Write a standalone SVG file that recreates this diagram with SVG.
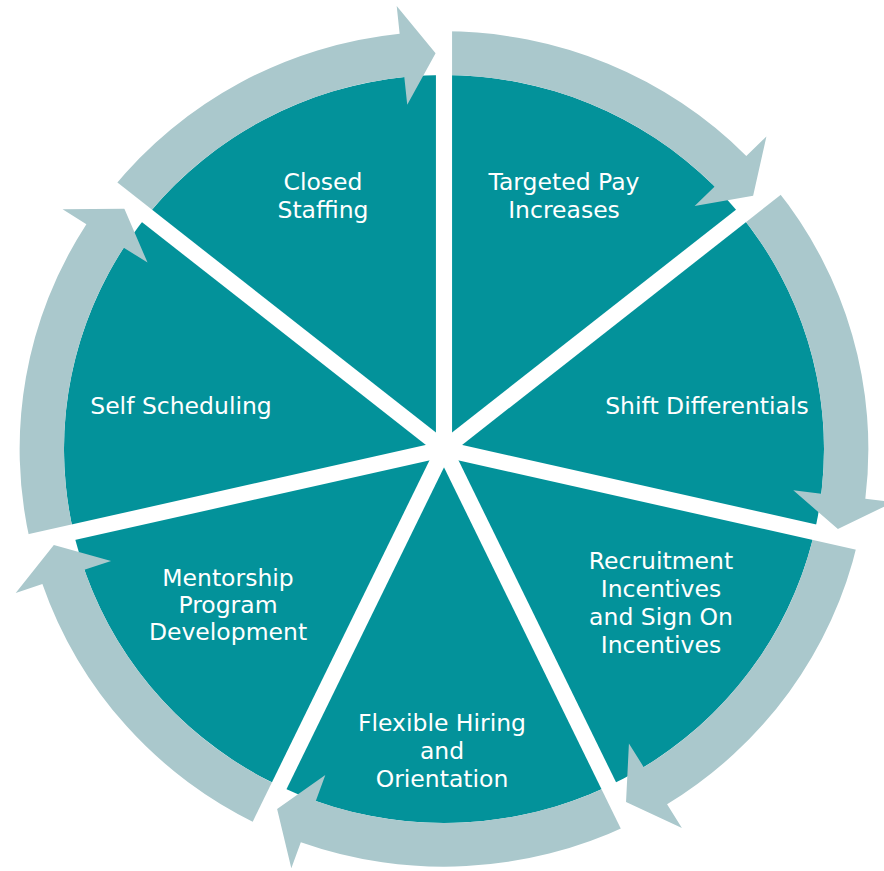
<svg xmlns="http://www.w3.org/2000/svg" xmlns:xlink="http://www.w3.org/1999/xlink" width="884" height="871" viewBox="0 0 884 871">
<style>
.ring{fill:#AAC8CC}
.pie{fill:#03929A}
.spoke{stroke:#FFFFFF;stroke-width:16;stroke-linecap:butt}
.lbl{fill:#FFFFFF;font-family:"DejaVu Sans","Liberation Sans",sans-serif;font-size:23.5px;text-anchor:middle}
</style>
<defs>
<path id="arrow" class="ring" d="M421,0 A421,421 0 0 1 295.45,299.92 L315.10,319.86 L255.24,306.68 L244.92,248.62 L264.57,268.57 A377,377 0 0 0 377,0 Z"/>
</defs>
<rect width="884" height="871" fill="#FFFFFF"/>
<g id="wheel" transform="translate(444,449) scale(1.008,0.992)">
<circle class="pie" cx="0" cy="0" r="377"/>
<g id="connectors">
<use xlink:href="#arrow" transform="rotate(-141.4286)"/>
<use xlink:href="#arrow" transform="rotate(-90)"/>
<use xlink:href="#arrow" transform="rotate(-38.5714)"/>
<use xlink:href="#arrow" transform="rotate(12.8571)"/>
<use xlink:href="#arrow" transform="rotate(64.2857)"/>
<use xlink:href="#arrow" transform="rotate(115.7143)"/>
<use xlink:href="#arrow" transform="rotate(167.1429)"/>
</g>
<g id="spokes">
<line class="spoke" x1="0" y1="0" x2="470" y2="0" transform="rotate(-90)"/>
<line class="spoke" x1="0" y1="0" x2="470" y2="0" transform="rotate(-38.5714)"/>
<line class="spoke" x1="0" y1="0" x2="470" y2="0" transform="rotate(12.8571)"/>
<line class="spoke" x1="0" y1="0" x2="470" y2="0" transform="rotate(64.2857)"/>
<line class="spoke" x1="0" y1="0" x2="470" y2="0" transform="rotate(115.7143)"/>
<line class="spoke" x1="0" y1="0" x2="470" y2="0" transform="rotate(167.1429)"/>
<line class="spoke" x1="0" y1="0" x2="470" y2="0" transform="rotate(218.5714)"/>
<circle cx="0" cy="0" r="9" fill="#FFFFFF"/>
</g>
</g>
<g id="closed-staffing"><text class="lbl" x="323" y="190">Closed</text><text class="lbl" x="323" y="218">Staffing</text></g>
<g id="targeted-pay"><text class="lbl" x="564" y="190">Targeted Pay</text><text class="lbl" x="564" y="218">Increases</text></g>
<g id="shift-differentials"><text class="lbl" x="707" y="414">Shift Differentials</text></g>
<g id="recruitment"><text class="lbl" x="661" y="569">Recruitment</text><text class="lbl" x="661" y="597">Incentives</text><text class="lbl" x="661" y="625">and Sign On</text><text class="lbl" x="661" y="653">Incentives</text></g>
<g id="flexible-hiring"><text class="lbl" x="442" y="731">Flexible Hiring</text><text class="lbl" x="442" y="759">and</text><text class="lbl" x="442" y="787">Orientation</text></g>
<g id="mentorship"><text class="lbl" x="228" y="586">Mentorship</text><text class="lbl" x="228" y="613">Program</text><text class="lbl" x="228" y="640">Development</text></g>
<g id="self-scheduling"><text class="lbl" x="181" y="414">Self Scheduling</text></g>
</svg>
